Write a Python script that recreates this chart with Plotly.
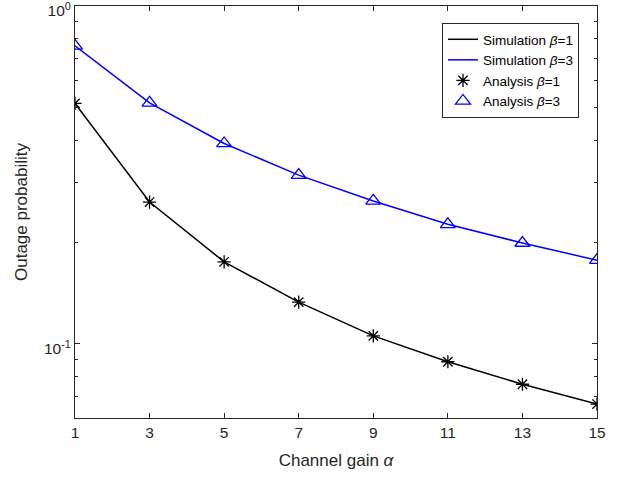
import plotly.graph_objects as go

alpha = [1, 3, 5, 7, 9, 11, 13, 15]
sim_beta1 = [0.515, 0.263, 0.175, 0.133, 0.1057, 0.0886, 0.076, 0.0664]
sim_beta3 = [0.762, 0.517, 0.392, 0.316, 0.265, 0.226, 0.199, 0.177]
ana_beta1 = [0.515, 0.263, 0.175, 0.133, 0.1057, 0.0886, 0.076, 0.0664]
ana_beta3 = [0.762, 0.517, 0.392, 0.316, 0.265, 0.226, 0.199, 0.177]

x_ticks = [1, 3, 5, 7, 9, 11, 13, 15]
y_ticks = [0.1, 1]
y_ticktext = ["10<sup>-1</sup>", "10<sup>0</sup>"]
y_minor = [0.07, 0.08, 0.09, 0.2, 0.3, 0.4, 0.5, 0.6, 0.7, 0.8, 0.9]

FONT = "Liberation Sans, Arial, Helvetica, sans-serif"
AX = "#262626"

fig = go.Figure()
fig.add_trace(go.Scatter(x=alpha, y=sim_beta1, mode="lines", name="Simulation <i>β</i>=1",
                         line=dict(color="black", width=1.5)))
fig.add_trace(go.Scatter(x=alpha, y=sim_beta3, mode="lines", name="Simulation <i>β</i>=3",
                         line=dict(color="#0000ff", width=1.5)))
fig.add_trace(go.Scatter(x=alpha, y=ana_beta1, mode="markers", name="Analysis <i>β</i>=1",
                         marker=dict(symbol="asterisk-open", size=11, color="black",
                                     line=dict(color="black", width=1.3))))
fig.add_trace(go.Scatter(x=alpha, y=ana_beta3, mode="markers", name="Analysis <i>β</i>=3",
                         marker=dict(symbol="triangle-up-open", size=13, color="#0000ff",
                                     line=dict(color="#0000ff", width=1.3))))

fig.update_layout(
    width=619, height=478,
    margin=dict(l=75, r=22, t=6, b=60),
    paper_bgcolor="white", plot_bgcolor="white",
    font=dict(family=FONT, size=15, color=AX),
    showlegend=True,
    legend=dict(x=0.9655, y=0.9587, xanchor="right", yanchor="top",
                bgcolor="white", bordercolor=AX, borderwidth=1,
                font=dict(family=FONT, size=13.5, color="black"),
                tracegroupgap=0, itemwidth=30),
    xaxis=dict(range=[1, 15], tickvals=x_ticks, ticks="inside", ticklen=5,
               tickcolor=AX, showline=True, linecolor=AX, linewidth=1, mirror="ticks",
               showgrid=False, zeroline=False, automargin=False,
               tickfont=dict(size=15.5, color=AX),
               title=dict(text="Channel gain <i>α</i>", font=dict(size=17, color=AX), standoff=14)),
    yaxis=dict(type="log", range=[-1.219, 0], tickvals=y_ticks, ticktext=y_ticktext,
               ticks="inside", ticklen=5, tickcolor=AX, showline=True, linecolor=AX,
               linewidth=1, mirror="ticks", showgrid=False, zeroline=False,
               ticklabeloverflow="allow", automargin=False, ticklabelshift=5,
               tickfont=dict(size=15.5, color=AX),
               minor=dict(tickvals=y_minor, ticks="inside", ticklen=3, tickcolor=AX, showgrid=False),
               title=dict(text="Outage probability", font=dict(size=17, color=AX), standoff=12)),
)

fig.write_html("out.html")
